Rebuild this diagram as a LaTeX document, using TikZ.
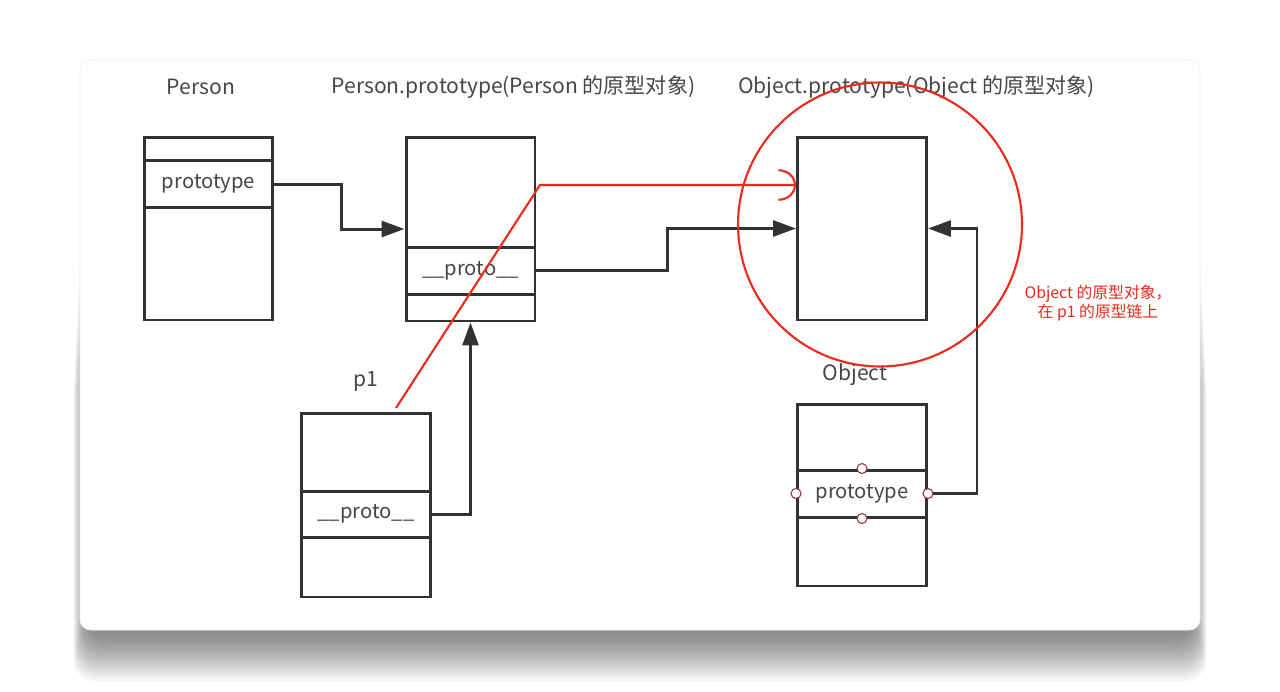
\documentclass[tikz,border=0pt]{standalone}
\usepackage{fontspec}
\setmainfont{Noto Sans CJK SC}
\usepackage{tikz}
\usetikzlibrary{arrows.meta, positioning, shapes.geometric}
\definecolor{linecolor}{RGB}{51, 51, 51}
\definecolor{textcolor}{RGB}{70, 70, 70}
\definecolor{notecolor}{RGB}{236, 42, 28}
\definecolor{portcolor}{RGB}{150, 50, 50}

\begin{document}
\begin{tikzpicture}[
    x=0.02cm, y=-0.02cm,
    box/.style={draw=linecolor, line width=1.7pt, minimum width=2.58cm, minimum height=3.66cm, inner sep=0pt},
    row/.style={draw=linecolor, line width=1.7pt, minimum width=2.58cm, minimum height=0.94cm, inner sep=0pt, text=textcolor, font=\fontsize{11.5}{14}\selectfont},
    title/.style={text=textcolor, inner sep=0pt, font=\fontsize{12}{14}\selectfont},
    link/.style={draw=linecolor, line width=1.7pt, -{Triangle[length=13pt, width=9pt]}},
    chain/.style={draw=notecolor, line width=1.2pt},
    port/.style={circle, draw=portcolor, fill=white, line width=0.6pt, minimum size=0.2cm, inner sep=0pt},
    note/.style={text=notecolor, align=center, inner sep=0pt, font=\fontsize{9}{11}\selectfont}
]
    \useasboundingbox (0,0) rectangle (1280,691);

    % Card with shadow
    \foreach \i in {1,...,18}
        \fill[black, opacity=0.032, rounded corners=12pt] (86-0.7*\i, 120+14*\i) rectangle (1194+0.7*\i, 636+2.5*\i);
    \fill[white, draw=black!6, rounded corners=6pt] (80,60) rectangle (1200,630);

    % Titles
    \node[title] (tperson) at (201,87) {Person};
    \node[title] (tpproto) at (513.5,87) {Person.prototype(Person 的原型对象)};
    \node[title] (toproto) at (916.5,87) {Object.prototype(Object 的原型对象)};
    \node[title] (tp1) at (366,381) {p1};
    \node[title] (tobject) at (855,375) {Object};

    % Person
    \node[box] (person) at (208.5,228.5) {};
    \node[row] (personrow) at (208.5,184) {prototype};
    \draw[linecolor, line width=1.7pt] (144,160) -- (273,160);

    % Person.prototype
    \node[box, minimum height=3.68cm] (pproto) at (470.5,229) {};
    \node[row] (pprotorow) at (470.5,270.5) {\_\_proto\_\_};

    % p1
    \node[box, minimum height=3.68cm] (p1) at (366,505) {};
    \node[row, minimum height=0.92cm] (p1row) at (366,514) {\_\_proto\_\_};

    % Object.prototype
    \node[box] (oproto) at (862,228.5) {};

    % Object
    \node[box, minimum height=3.64cm] (object) at (862,495) {};
    \node[row] (objectrow) at (862,493.5) {prototype};

    % Links
    \draw[link] (personrow.east) -- ++(67,0) |- (pproto.west);
    \draw[link] (pprotorow.east) -- ++(131,0) |- (oproto.west);
    \draw[link] (p1row.east) -| (pproto.south);
    \draw[link] (objectrow.east) -- ++(49,0) |- (oproto.east);

    % Ports
    \node[port] (portn) at (objectrow.north) {};
    \node[port] (ports) at (objectrow.south) {};
    \node[port] (portw) at (objectrow.west) {};
    \node[port] (porte) at (objectrow.east) {};

    % Prototype chain
    \coordinate (chainstart) at (396,408);
    \coordinate (chainbend) at (540,185);
    \draw[chain, -{Arc Barb[length=10pt, width=18pt]}] (chainstart) -- (chainbend) -- (oproto.west |- chainbend);
    \node[circle, draw=notecolor, line width=1.2pt, minimum size=5.68cm, inner sep=0pt] (highlight) at (880,224.5) {};
    \node[note] (chainnote) at (1098,303) {Object 的原型对象，\\在 p1 的原型链上};

\end{tikzpicture}
\end{document}
